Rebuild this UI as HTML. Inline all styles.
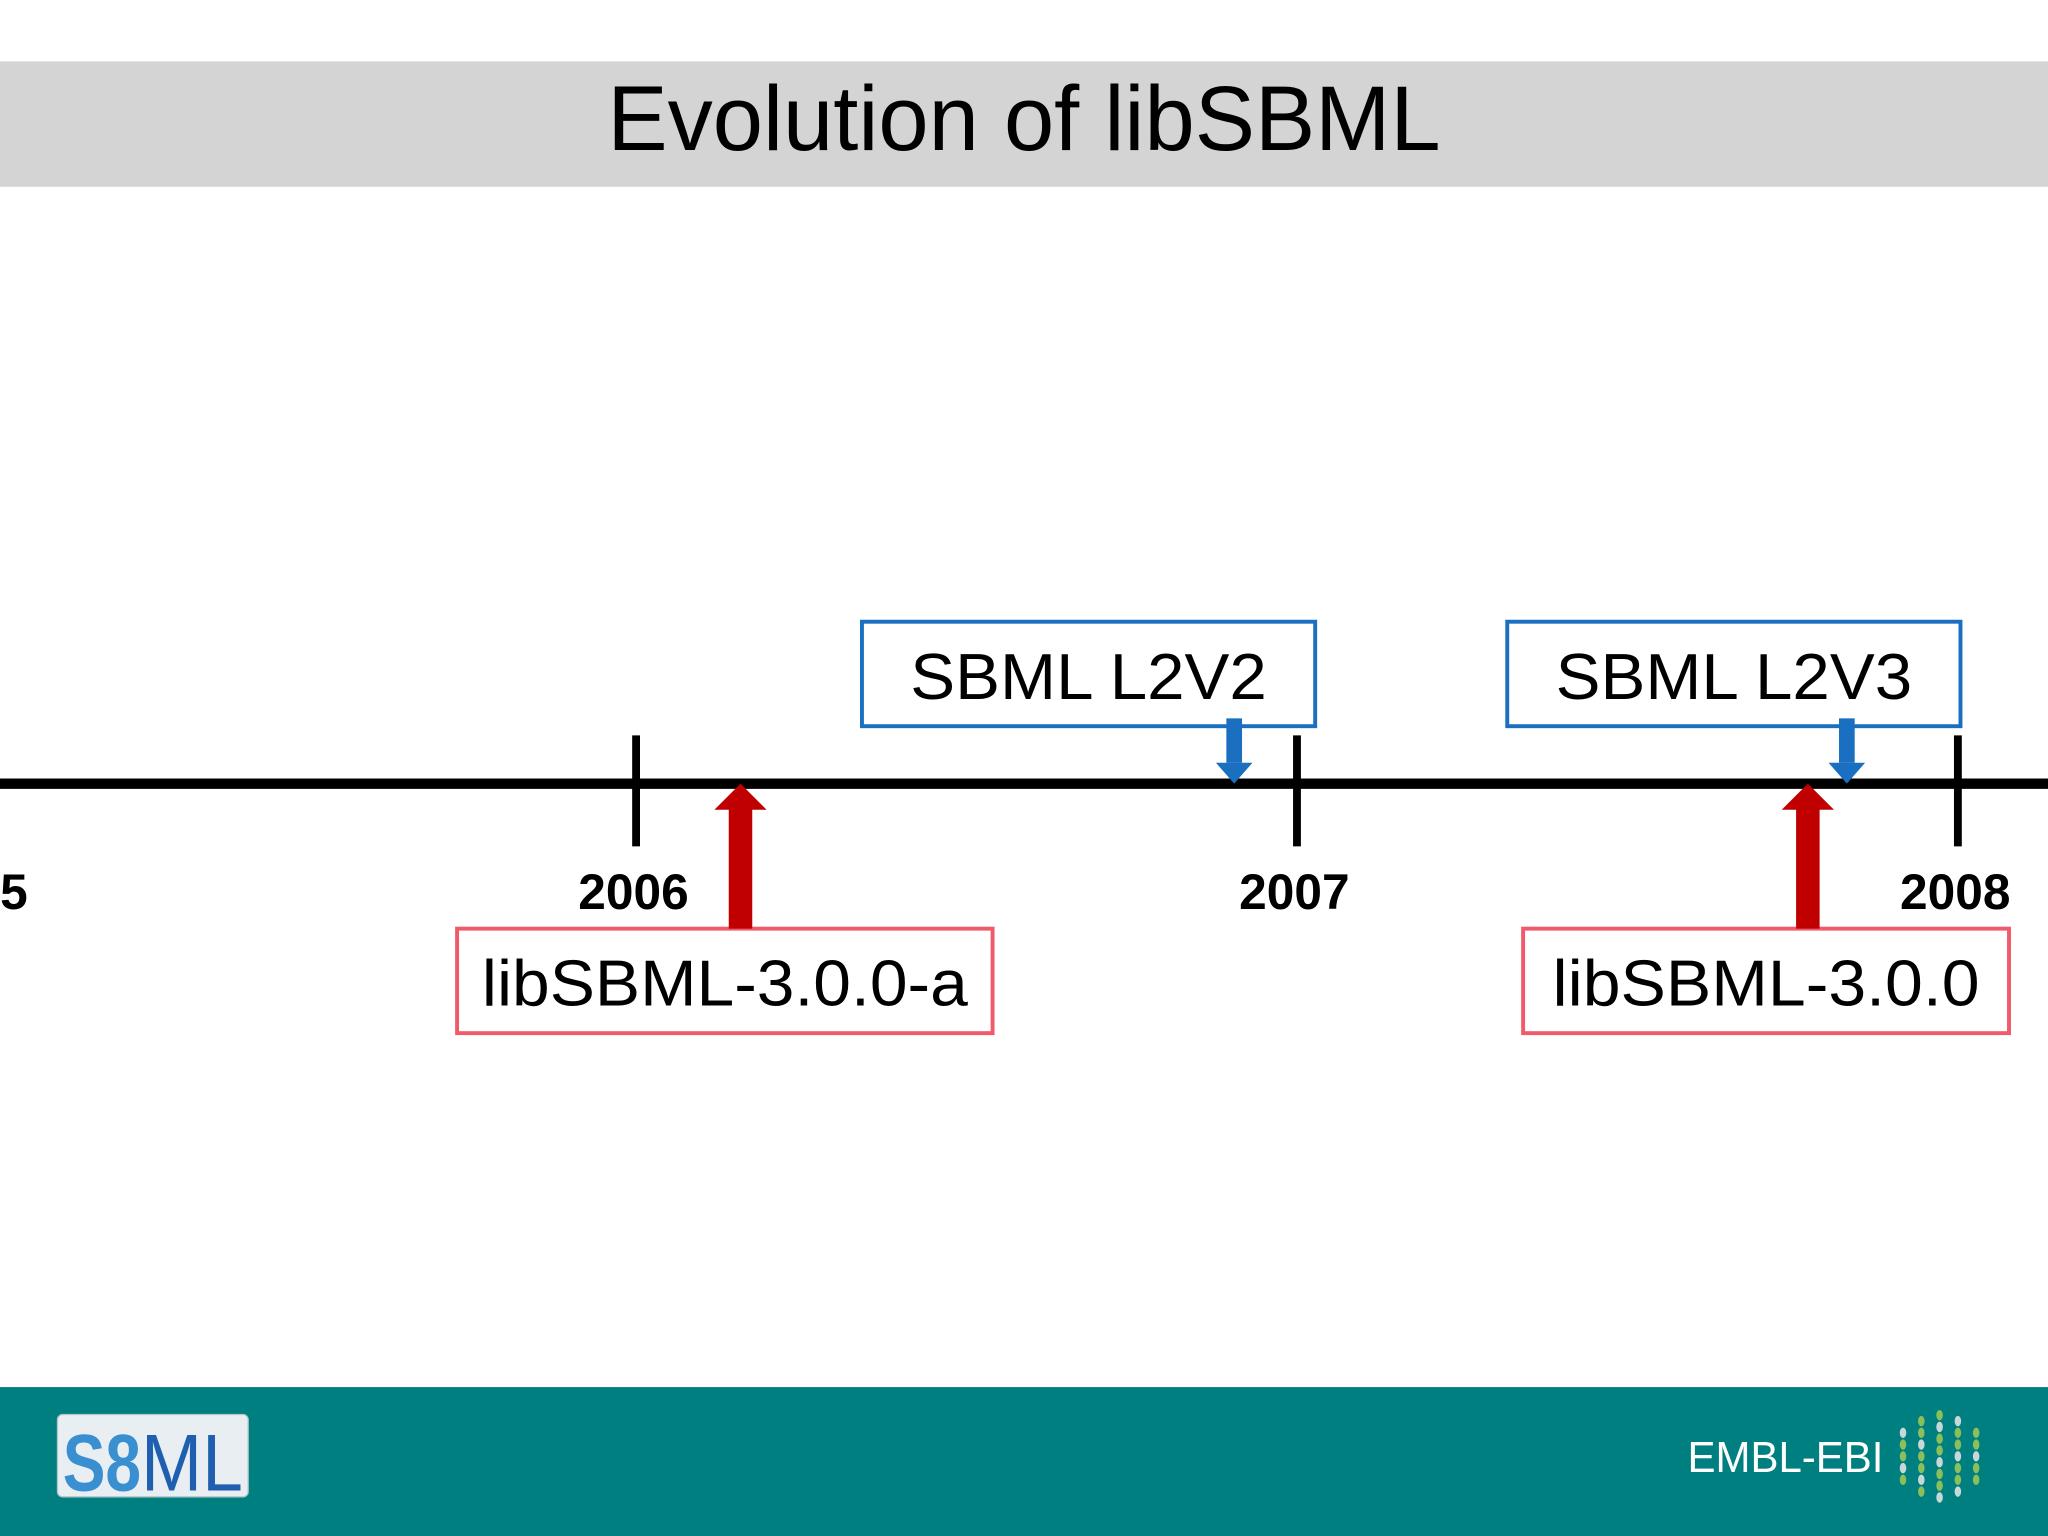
<!DOCTYPE html>
<html><head><meta charset="utf-8"><style>
html,body{margin:0;padding:0;background:#fff;}
svg{display:block;}
text{font-family:"Liberation Sans",Arial,sans-serif;}
</style></head><body>
<svg id="chart" width="2048" height="1536" viewBox="0 0 1568 1176" xmlns="http://www.w3.org/2000/svg">
<rect x="0" y="0" width="1568" height="1176" fill="#ffffff"/>
<rect x="0" y="47" width="1568" height="96" fill="#d4d4d4"/>
<text x="784" y="115" text-anchor="middle" font-size="70" fill="#000" textLength="638" lengthAdjust="spacingAndGlyphs">Evolution of libSBML</text>
<line x1="0" y1="600" x2="1568" y2="600" stroke="#000" stroke-width="8"/>
<g id="ticks"></g>
<g id="events"></g>
<rect x="0" y="1062" width="1568" height="114" fill="#007f80"/>
<g>
<rect x="44" y="1083" width="146" height="63" rx="4" fill="#e8eef2" stroke="#b8c4cc"/>
<text x="48" y="1141" font-size="62" font-weight="bold" fill="#3a8fd0" textLength="60" lengthAdjust="spacingAndGlyphs">S8</text>
<text x="108" y="1141" font-size="62" fill="#1e5fb0" textLength="78" lengthAdjust="spacingAndGlyphs">ML</text>
</g>
<text x="1292" y="1127" font-size="33" fill="#ffffff" textLength="150" lengthAdjust="spacingAndGlyphs">EMBL-EBI</text>
<g id="dots"></g>
</svg>
<script>
const years = ["2005", "2006", "2007", "2008"];
const eventLabels = ["SBML L2V2", "SBML L2V3", "libSBML-3.0.0-a", "libSBML-3.0.0"];
const eventDates = [2006.905, 2007.832, 2006.158, 2007.773];
const eventKinds = ["spec", "spec", "lib", "lib"];

// layout (not data): box left offset from arrow, box width, text width
const boxOffset = [-285, -260, -217, -218];
const boxWidth = [347, 347, 410, 372];
const textWidth = [273, 273, 372, 327];

const NS = "http://www.w3.org/2000/svg";
const yearX = y => 487 + (y - 2006) * 506;
function mk(tag, attrs, parent) {
  const e = document.createElementNS(NS, tag);
  for (const k in attrs) e.setAttribute(k, attrs[k]);
  parent.appendChild(e);
  return e;
}
const ticks = document.getElementById('ticks');
years.forEach((yr) => {
  const x = yearX(+yr);
  const t = mk('line', {x1: x, x2: x, y1: 563, y2: 648, stroke: '#000', 'stroke-width': 6}, ticks);
  
  
  const l = mk('text', {x: x - 2, y: 696, 'text-anchor': 'middle', 'font-size': 38, 'font-weight': 'bold', fill: '#000'}, ticks);
  l.textContent = yr;
  
  
});
const ev = document.getElementById('events');
eventLabels.forEach((lab, i) => {
  const x = yearX(eventDates[i]);
  const g = mk('g', {}, ev);
  
  
  const bx = x + boxOffset[i];
  const w = boxWidth[i];
  if (eventKinds[i] === 'spec') {
    mk('rect', {x: bx, y: 476, width: w, height: 80, fill: '#fff', stroke: '#1a6fc0', 'stroke-width': 3}, g);
    const t = mk('text', {x: bx + w / 2, y: 535, 'text-anchor': 'middle', 'font-size': 50, fill: '#000', textLength: textWidth[i], lengthAdjust: 'spacingAndGlyphs'}, g);
    t.textContent = lab;
    mk('rect', {x: x - 6, y: 550, width: 12, height: 34, fill: '#1a6fc0'}, g);
    mk('polygon', {points: `${x - 14},584 ${x + 14},584 ${x},600`, fill: '#1a6fc0'}, g);
  } else {
    mk('rect', {x: bx, y: 711, width: w, height: 80, fill: '#fff', stroke: '#f05a6a', 'stroke-width': 3}, g);
    const t = mk('text', {x: bx + w / 2, y: 770, 'text-anchor': 'middle', 'font-size': 50, fill: '#000', textLength: textWidth[i], lengthAdjust: 'spacingAndGlyphs'}, g);
    t.textContent = lab;
    mk('rect', {x: x - 9, y: 618, width: 18, height: 93, fill: '#c00000'}, g);
    mk('polygon', {points: `${x - 20},620 ${x + 20},620 ${x},600`, fill: '#c00000'}, g);
  }
});
const dots = document.getElementById('dots');
for (let c = 0; c < 5; c++) {
  const n = [5, 7, 8, 7, 5][c];
  for (let r = 0; r < n; r++) {
    const cx = 1457 + c * 14;
    const cy = 1115 + (r - (n - 1) / 2) * 9;
    const d = mk('ellipse', {cx: cx, cy: cy, rx: 2.5, ry: 4, fill: (r + c) % 3 === 0 ? '#c8d8d8' : '#8bbf5a'}, dots);
    
    
  }
}
</script>
</body></html>
